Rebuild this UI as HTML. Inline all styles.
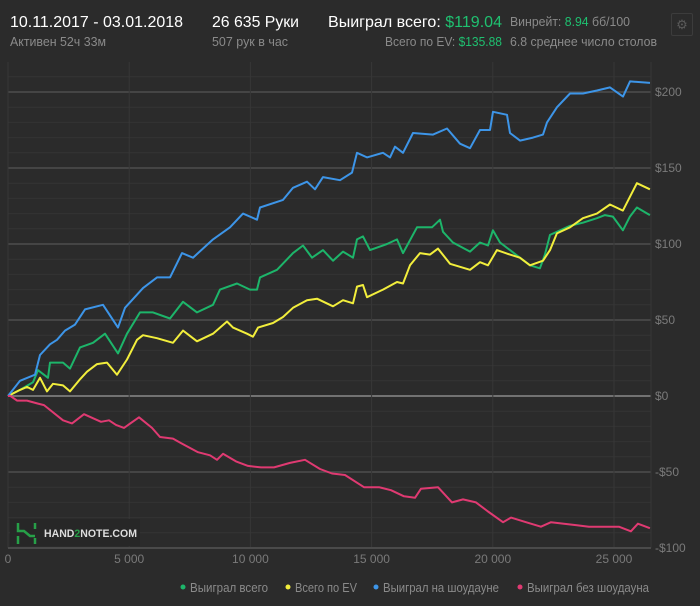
<!DOCTYPE html>
<html><head><meta charset="utf-8"><style>
body{margin:0;background:#2b2b2b;width:700px;height:606px;overflow:hidden;font-family:"Liberation Sans","Noto Sans CJK SC",sans-serif;}
</style></head><body>
<div style="position:absolute;left:671px;top:13px;width:20px;height:21px;border:1px solid #3c3c3c;border-radius:2px;color:#5a5a5a;font-size:13px;text-align:center;line-height:21px">⚙</div>
<svg id="chart" width="700" height="606" style="position:absolute;left:0;top:0">
<text x="10" y="27" fill="#fff" font-size="16" textLength="173" lengthAdjust="spacingAndGlyphs">10.11.2017 - 03.01.2018</text>
<text x="10" y="46" fill="#8a8a8a" font-size="13" textLength="96" lengthAdjust="spacingAndGlyphs">Активен 52ч 33м</text>
<text x="212" y="27" fill="#fff" font-size="16" textLength="87" lengthAdjust="spacingAndGlyphs">26 635 Руки</text>
<text x="212" y="46" fill="#8a8a8a" font-size="13" textLength="76" lengthAdjust="spacingAndGlyphs">507 рук в час</text>
<text x="328" y="27" fill="#fff" font-size="16" textLength="174" lengthAdjust="spacingAndGlyphs">Выиграл всего: <tspan fill="#1fc070">$119.04</tspan></text>
<text x="385" y="46" fill="#8a8a8a" font-size="13" textLength="117" lengthAdjust="spacingAndGlyphs">Всего по EV: <tspan fill="#1fc070">$135.88</tspan></text>
<text x="510" y="26" fill="#8a8a8a" font-size="13" textLength="120" lengthAdjust="spacingAndGlyphs">Винрейт: <tspan fill="#1fc070">8.94</tspan> бб/100</text>
<text x="510" y="46" fill="#8a8a8a" font-size="13" textLength="147" lengthAdjust="spacingAndGlyphs">6.8 среднее число столов</text>
</svg>
<script>
const gH=[0,495,1031,1238,1650,1733,2269,2558,2970,3506,4001,4538,4909,5445,5981,6683,7219,7796,8456,8745,9446,9983,10271,10395,11096,11756,12169,12540,12994,13406,13819,14231,14396,14644,14933,15634,16046,16294,16871,17490,17820,17944,18356,19058,19470,19800,20006,20295,20708,21120,21533,21945,22151,22358,22646,23183,23719,24296,24626,24956,25369,25658,25946,26483];
const gV=[0,4,9,17,12,22,22,18,32,35,41,28,41,55,55,51,62,55,60,70,74,70,70,78,83,94,99,91,96,89,95,91,103,105,96,100,103,94,111,111,116,108,101,95,101,99,109,101,96,91,86,84,93,106,108,112,114,117,119,118,109,118,124,119];
const yH=[0,495,784,1031,1320,1609,1856,2269,2558,2970,3259,3671,4084,4496,4909,5321,5569,6146,6806,7219,7796,8456,9034,9281,9859,10106,10313,10931,11344,11756,12334,12746,13406,13819,14231,14396,14644,14809,15469,16046,16294,16583,16995,17408,17738,18233,19058,19470,19800,20171,20708,21120,21533,22069,22358,22646,23183,23719,24296,24833,25369,25946,26483];
const yV=[0,4,6,4,12,3,8,7,3,11,16,21,22,14,24,37,40,38,35,43,36,41,49,45,41,39,45,48,52,58,63,64,59,63,61,72,73,65,70,75,74,86,94,93,97,87,83,88,86,96,93,91,86,89,96,107,111,117,120,126,122,140,136];
const bH=[0,495,1114,1320,1733,2021,2351,2764,3177,3919,4538,4827,5569,6147,6683,7178,7632,8457,9158,9695,10272,10396,11345,11757,12335,12665,12995,13696,14191,14398,14810,15470,15759,15965,16295,16708,17533,18111,18647,19059,19472,19884,20008,20586,20710,21122,21658,22071,22236,22648,23185,23721,24298,24835,25371,25660,26485];
const bV=[0,10,14,27,34,37,43,47,57,60,45,58,71,78,78,94,91,103,111,120,116,124,129,137,141,136,144,142,147,160,157,160,157,164,160,173,172,176,166,163,175,175,187,185,173,168,170,172,180,190,199,199,201,203,197,207,206];
const pH=[0,103,371,784,1238,1485,2269,2640,3135,3836,4166,4455,4785,5404,5940,6270,6806,7136,7838,8333,8621,8869,9405,9900,10436,10973,11633,12251,12870,13365,13901,14685,15304,15799,16335,16789,17036,17738,18315,18769,19305,19800,20419,20749,21368,21986,22399,22935,23471,23966,24668,25204,25699,25988,26483];
const pV=[0,0,-3,-3,-5,-6,-16,-18,-12,-17,-16,-19,-21,-14,-21,-27,-28,-31,-37,-39,-42,-38,-43,-46,-47,-47,-44,-42,-48,-51,-52,-60,-60,-62,-66,-67,-61,-60,-70,-68,-70,-76,-83,-80,-83,-86,-83,-84,-85,-86,-86,-86,-89,-84,-87];
const xTicks=[0,5000,10000,15000,20000,25000];
const xLabels=["0","5 000","10 000","15 000","20 000","25 000"];
const yTicks=[-100,-50,0,50,100,150,200];
const yLabels=["-$100","-$50","$0","$50","$100","$150","$200"];
const legendNames=["Выиграл всего","Всего по EV","Выиграл на шоудауне","Выиграл без шоудауна"];
const colors=["#1db56a","#f2ee3c","#3d95e8","#e03a72"];
const X=h=>8+h*0.02424, Y=v=>396-v*1.52;
const svg=document.getElementById('chart');const NS='http://www.w3.org/2000/svg';
function mk(t,a,p){const e=document.createElementNS(NS,t);for(const k in a)e.setAttribute(k,a[k]);(p||svg).appendChild(e);return e;}
for(let v=-100;v<=220;v+=10){const y=Y(v);if(y<62)continue;
 const ln=mk('line',{x1:8,x2:651,y1:y,y2:y,stroke:v===0?'#8a8a8a':(v%50===0?'#4e4e4e':'#343434'),'stroke-width':v%50===0?1.5:1});
 
 }
xTicks.forEach((h,i)=>{const l=mk('line',{x1:X(h),x2:X(h),y1:62,y2:548,stroke:'#373737'});
 
 
 const t=mk('text',{x:X(h),y:563,fill:'#7a7a7a','font-size':12,'text-anchor':'middle'});t.textContent=xLabels[i];
 
 });
mk('line',{x1:651,x2:651,y1:62,y2:548,stroke:'#373737'});
yTicks.forEach((v,i)=>{const t=mk('text',{x:655,y:Y(v)+4,fill:'#7a7a7a','font-size':12});t.textContent=yLabels[i];
 
 });
const axis=mk('line',{x1:8,x2:651,y1:548,y2:548,stroke:'#4a4a4a','stroke-width':2});


const g=mk('g',{});
mk('rect',{x:10,y:519,width:130,height:27,fill:'#272727'},g);
mk('path',{d:'M18 523v8h6l6 5h5M35 523v6M18 536v8M35 538v6',stroke:'#27a048','stroke-width':2.5,fill:'none'},g);
const lt=mk('text',{x:44,y:537,fill:'#ddd','font-size':11,'font-weight':'bold',textLength:93,lengthAdjust:'spacingAndGlyphs'},g);lt.innerHTML='HAND<tspan fill="#27a048">2</tspan>NOTE.COM';
const series=[[gH,gV],[yH,yV],[bH,bV],[pH,pV]];
const names=['series-total-won','series-ev','series-showdown','series-non-showdown'];
series.forEach((s,i)=>{const pts=s[0].map((h,j)=>X(h).toFixed(1)+','+Y(s[1][j]).toFixed(1)).join(' ');
 const pl=mk('polyline',{points:pts,fill:'none',stroke:colors[i],'stroke-width':2,'stroke-linejoin':'round'});
 
 });
const lx=[183,288,376,520];
const lw=[78,62,116,122];
legendNames.forEach((n,i)=>{const c=mk('circle',{cx:lx[i],cy:587,r:2.5,fill:colors[i]});
 
 
 const t=mk('text',{x:lx[i]+7,y:592,fill:'#8a8a8a','font-size':13,textLength:lw[i],lengthAdjust:'spacingAndGlyphs'});t.textContent=n;
 
 });
</script>
</body></html>
